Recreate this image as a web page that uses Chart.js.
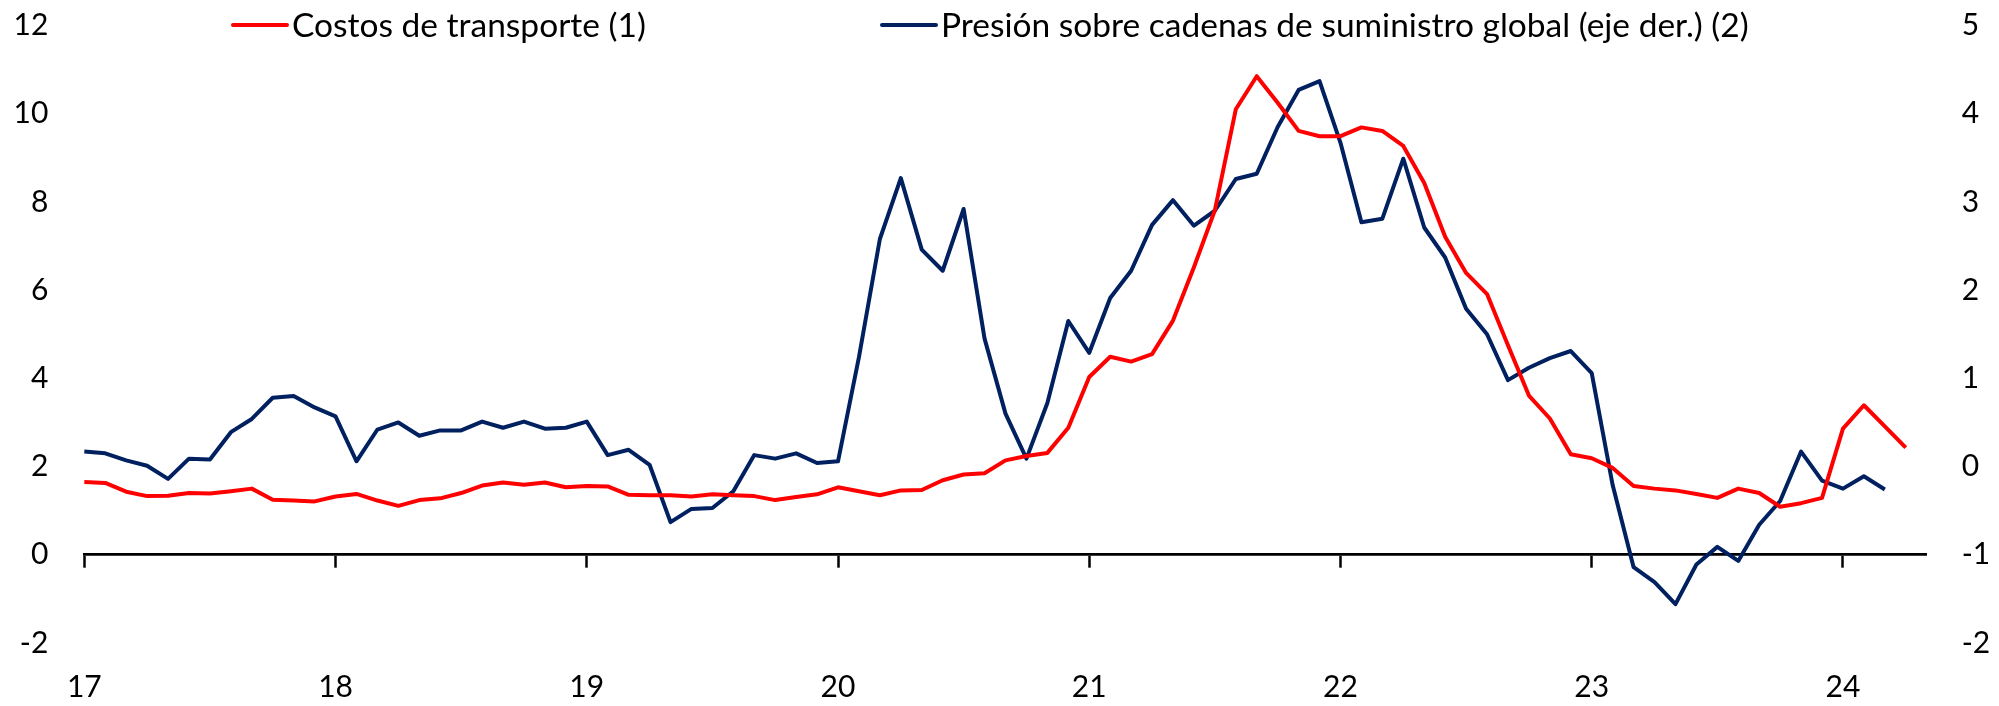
<!DOCTYPE html>
<html>
<head>
<meta charset="utf-8">
<script src="https://cdn.jsdelivr.net/npm/chart.js@4.4.1/dist/chart.umd.min.js"></script>
<style>
  html, body { margin: 0; padding: 0; background: #ffffff; }
  #wrap { position: relative; width: 1999px; height: 706px; }
  canvas { display: block; }
</style>
</head>
<body>
<div id="wrap"><canvas id="c" width="1999" height="706"></canvas></div>
<script>
// ---- Data ----
// Monthly categories: Jan 2017 .. May 2024 (axis end)
const months = [];
for (let y = 2017; y <= 2024; y++) {
  for (let m = 1; m <= 12; m++) {
    if (y === 2024 && m > 5) break;
    months.push(y + '-' + String(m).padStart(2, '0'));
  }
}
const yearTickLabels = ['17', '18', '19', '20', '21', '22', '23', '24'];

const seriesNames = [
  'Costos de transporte (1)',
  'Presión sobre cadenas de suministro global (eje der.) (2)'
];

// Costos de transporte (left axis), Jan 2017 .. Apr 2024
const transportCosts = [
  1.65, 1.63, 1.43, 1.33, 1.34, 1.40, 1.39, 1.44, 1.50, 1.25, 1.23, 1.21,
  1.32, 1.38, 1.23, 1.11, 1.24, 1.28, 1.40, 1.57, 1.64, 1.59, 1.64, 1.53,
  1.56, 1.55, 1.36, 1.35, 1.35, 1.32, 1.37, 1.35, 1.33, 1.24, 1.31, 1.37,
  1.53, 1.44, 1.35, 1.46, 1.47, 1.69, 1.82, 1.85, 2.14, 2.24, 2.31, 2.88,
  4.03, 4.49, 4.38, 4.55, 5.31, 6.52, 7.81, 10.10, 10.85, 10.25, 9.61, 9.49,
  9.49, 9.69, 9.61, 9.27, 8.43, 7.21, 6.39, 5.91, 4.75, 3.61, 3.09, 2.28,
  2.19, 1.97, 1.56, 1.50, 1.46, 1.38, 1.29, 1.50, 1.40, 1.09, 1.17, 1.29,
  2.86, 3.39, 2.91, 2.43
];

// Presión sobre cadenas de suministro global (right axis), Jan 2017 .. Mar 2024
const supplyPressure = [
  0.17, 0.15, 0.07, 0.01, -0.14, 0.09, 0.08, 0.39, 0.54, 0.78, 0.80, 0.67,
  0.57, 0.06, 0.42, 0.50, 0.35, 0.41, 0.41, 0.51, 0.44, 0.51, 0.43, 0.44,
  0.51, 0.13, 0.19, 0.02, -0.63, -0.48, -0.47, -0.28, 0.13, 0.09, 0.15, 0.04,
  0.06, 1.24, 2.58, 3.27, 2.46, 2.22, 2.92, 1.45, 0.60, 0.09, 0.72, 1.65,
  1.29, 1.91, 2.22, 2.74, 3.02, 2.73, 2.90, 3.26, 3.32, 3.85, 4.27, 4.37,
  3.67, 2.77, 2.81, 3.49, 2.71, 2.37, 1.79, 1.50, 0.98, 1.12, 1.23, 1.31,
  1.06, -0.21, -1.14, -1.31, -1.56, -1.11, -0.91, -1.07, -0.66, -0.39, 0.17, -0.16,
  -0.25, -0.11, -0.26
];

// ---- Styles ----
const FAMILY = 'Lato, "DejaVu Sans", sans-serif';
const AXIS_FONT = { family: FAMILY, size: 30 };
const LEGEND_FONT_SIZE = 33.5;
const TEXT_COLOR = '#000000';
const RED = '#FF0000';
const NAVY = '#002060';

// Custom legend drawn on the canvas, overlapping the top of the plot
const lineLegend = {
  id: 'lineLegend',
  afterDraw(chart, args, opts) {
    const ctx = chart.ctx;
    ctx.save();
    ctx.font = LEGEND_FONT_SIZE + 'px ' + FAMILY;
    ctx.fillStyle = TEXT_COLOR;
    ctx.textBaseline = 'middle';
    ctx.textAlign = 'left';
    chart.data.datasets.forEach((ds, i) => {
      const x0 = opts.starts[i];
      ctx.strokeStyle = ds.borderColor;
      ctx.lineWidth = 4;
      ctx.lineCap = 'round';
      ctx.beginPath();
      ctx.moveTo(x0, opts.y);
      ctx.lineTo(x0 + opts.lineLen, opts.y);
      ctx.stroke();
      ctx.fillText(ds.label, x0 + opts.lineLen + opts.gap, opts.y + 1);
    });
    ctx.restore();
  }
};

const noPad = (scale) => {
  scale.paddingLeft = 0;
  scale.paddingRight = 0;
  scale.paddingTop = 0;
  scale.paddingBottom = 0;
};

new Chart(document.getElementById('c'), {
  type: 'line',
  data: {
    labels: months,
    datasets: [
      {
        label: seriesNames[0],
        data: transportCosts,
        yAxisID: 'y',
        borderColor: RED,
        backgroundColor: RED,
        borderWidth: 4,
        pointRadius: 0,
        tension: 0,
        fill: false,
        borderJoinStyle: 'round'
      },
      {
        label: seriesNames[1],
        data: supplyPressure,
        yAxisID: 'y1',
        borderColor: NAVY,
        backgroundColor: NAVY,
        borderWidth: 4,
        pointRadius: 0,
        tension: 0,
        fill: false,
        borderJoinStyle: 'round'
      }
    ]
  },
  options: {
    responsive: false,
    animation: false,
    events: [],
    layout: { padding: { top: 25.5, bottom: 63, left: 0, right: 0 } },
    plugins: {
      legend: { display: false },
      tooltip: { enabled: false },
      lineLegend: { starts: [233, 882], y: 25, lineLen: 54, gap: 5 }
    },
    scales: {
      x: {
        type: 'category',
        offset: false,
        position: { y: 0 },
        grid: {
          drawOnChartArea: false,
          drawTicks: true,
          tickLength: 12,
          tickWidth: 2.5,
          tickColor: '#000000'
        },
        border: { display: true, color: '#000000', width: 2.7 },
        ticks: {
          autoSkip: false,
          maxRotation: 0,
          minRotation: 0,
          padding: 103,
          font: AXIS_FONT,
          color: TEXT_COLOR,
          callback: (value) => yearTickLabels[Math.round(value / 12)]
        },
        afterBuildTicks: (scale) => {
          scale.ticks = scale.ticks.filter(t => t.value % 12 === 0);
        },
        afterFit: (scale) => {
          scale.height = 0;
          noPad(scale);
        }
      },
      y: {
        position: 'left',
        min: -2,
        max: 12,
        grid: { display: false, drawTicks: false },
        border: { display: false },
        ticks: { stepSize: 2, padding: 36, font: AXIS_FONT, color: TEXT_COLOR },
        afterFit: (scale) => { scale.width = 84.3; noPad(scale); }
      },
      y1: {
        position: 'right',
        min: -2,
        max: 5,
        grid: { display: false, drawTicks: false },
        border: { display: false },
        ticks: { stepSize: 1, padding: 35, font: AXIS_FONT, color: TEXT_COLOR },
        afterFit: (scale) => { scale.width = 72.3; noPad(scale); }
      }
    }
  },
  plugins: [lineLegend]
});
</script>
</body>
</html>
